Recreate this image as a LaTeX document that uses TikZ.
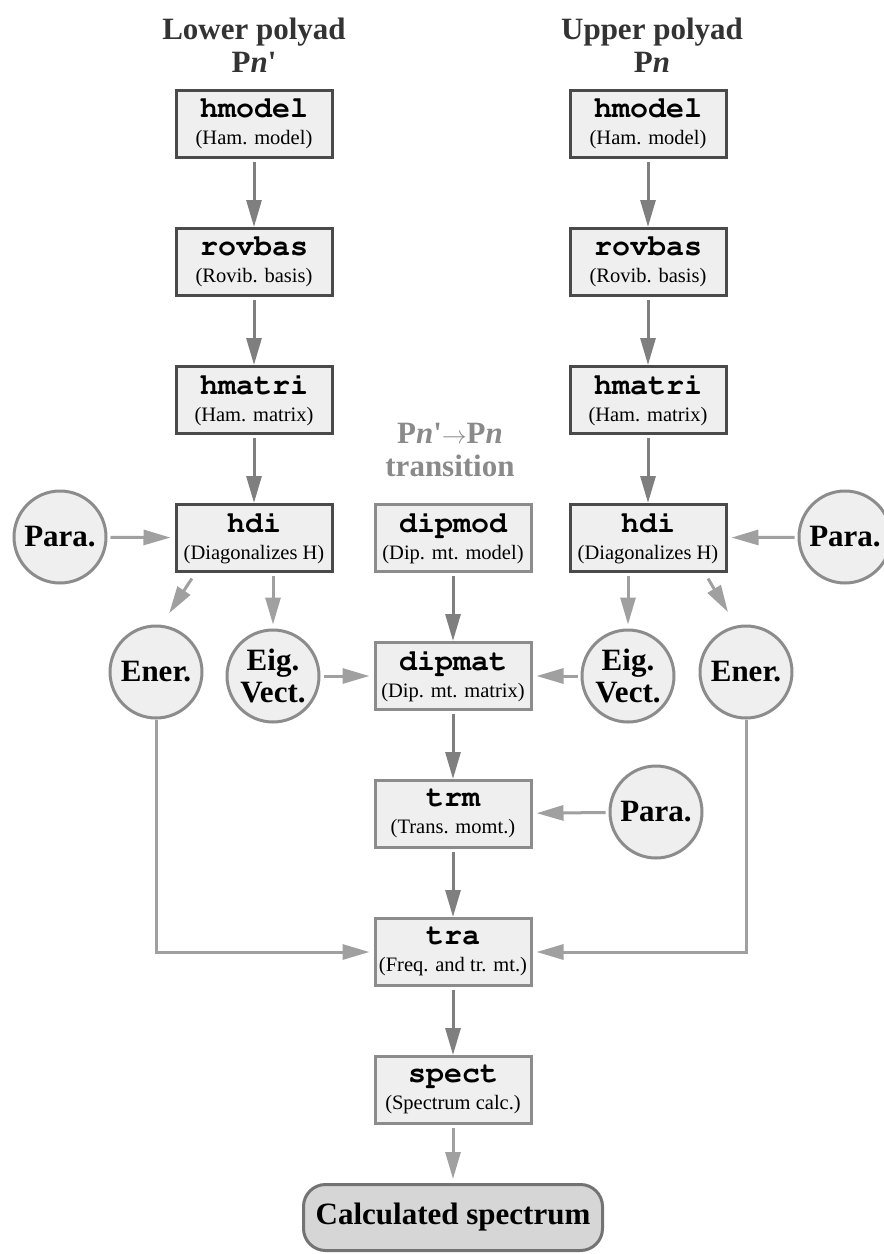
\documentclass[tikz,border=0pt]{standalone}
\usepackage[T1]{fontenc}
\usepackage{fontspec}
\setmainfont{Liberation Serif}
\setmonofont{Liberation Mono}
\usetikzlibrary{arrows.meta,positioning}

\definecolor{boxfill}{HTML}{EFEFEF}
\definecolor{darkline}{HTML}{4A4A4A}
\definecolor{midline}{HTML}{8C8C8C}
\definecolor{arrdark}{HTML}{7F7F7F}
\definecolor{arrlight}{HTML}{A0A0A0}
\definecolor{headgray}{HTML}{8A8A8A}
\definecolor{resfill}{HTML}{D6D6D6}

\newcommand{\prg}[1]{{\fontencoding{T1}\fontfamily{pcr}\fontseries{b}\fontsize{30}{30}\selectfont #1}}

\begin{document}
\begin{tikzpicture}[
    x=1pt, y=-1pt,
    node distance=68pt,
    progbox/.style={rectangle, draw=darkline, line width=3pt, fill=boxfill, minimum width=156pt, minimum height=67pt, align=center, inner sep=2pt, font=\fontsize{20.5}{27}\selectfont},
    tprogbox/.style={progbox, draw=midline},
    databox/.style={circle, draw=midline, line width=3pt, fill=boxfill, minimum size=92pt, inner sep=0pt, align=center, font=\fontsize{31}{32}\selectfont\bfseries},
    resbox/.style={rectangle, rounded corners=22pt, draw=black!55, line width=3pt, fill=resfill, minimum width=299pt, minimum height=66pt, font=\fontsize{31}{32}\selectfont\bfseries},
    headtxt/.style={align=center, text=black!80, font=\fontsize{31}{33}\selectfont\bfseries},
    arr/.style={draw=arrdark, line width=3pt, -{Triangle[length=27pt,width=15pt]}, shorten <=3pt},
    arrl/.style={arr, draw=arrlight, shorten >=4pt}
  ]
  \useasboundingbox (0,0) rectangle (884,1254);

  % lower polyad
  \node[headtxt] (lowT) at (254,45) {Lower polyad\\P\textit{n}\textquotesingle};
  \node[progbox] (hmodelL) at (254,124) {\prg{hmodel}\\(Ham. model)};
  \node[progbox, below=of hmodelL] (rovbasL) {\prg{rovbas}\\(Rovib. basis)};
  \node[progbox, below=of rovbasL] (hmatriL) {\prg{hmatri}\\(Ham. matrix)};
  \node[progbox, below=of hmatriL] (hdiL) {\prg{hdi}\\(Diagonalizes H)};
  \node[databox] (paraL) at (60,537) {Para.};
  \node[databox] (enerL) at (156,672) {Ener.};
  \node[databox] (eigL) at (273,676) {Eig.\\Vect.};

  % upper polyad
  \node[headtxt] (upT) at (652,45) {Upper polyad\\P\textit{n}};
  \node[progbox] (hmodelR) at (648,124) {\prg{hmodel}\\(Ham. model)};
  \node[progbox, below=of hmodelR] (rovbasR) {\prg{rovbas}\\(Rovib. basis)};
  \node[progbox, below=of rovbasR] (hmatriR) {\prg{hmatri}\\(Ham. matrix)};
  \node[progbox, below=of hmatriR] (hdiR) {\prg{hdi}\\(Diagonalizes H)};
  \node[databox] (paraR) at (845,537) {Para.};
  \node[databox] (eigR) at (628,676) {Eig.\\Vect.};
  \node[databox] (enerR) at (746,672) {Ener.};

  % transition
  \node[headtxt, text=headgray] (trT) at (450,450) {P\textit{n}\textquotesingle$\rightarrow$P\textit{n}\\transition};
  \node[tprogbox] (dipmod) at (453,538) {\prg{dipmod}\\(Dip. mt. model)};
  \node[tprogbox, below=of dipmod] (dipmat) {\prg{dipmat}\\(Dip. mt. matrix)};
  \node[tprogbox, below=of dipmat] (trm) {\prg{trm}\\(Trans. momt.)};
  \node[tprogbox, below=of trm] (tra) {\prg{tra}\\(Freq. and tr. mt.)};
  \node[tprogbox, below=of tra] (spect) {\prg{spect}\\(Spectrum calc.)};
  \node[resbox, below=58pt of spect] (calc) {Calculated spectrum};
  \node[databox] (paraT) at (656,812) {Para.};

  \draw[arr] (hmodelL) -- (rovbasL);
  \draw[arr] (rovbasL) -- (hmatriL);
  \draw[arr] (hmatriL) -- (hdiL);
  \draw[arrl] (paraL) -- (hdiL);
  \draw[arrl] ([xshift=19pt,yshift=-3pt]hdiL.south west) -- ([xshift=11pt,yshift=8pt]enerL.north);
  \draw[arrl] (hdiL.south -| eigL.north) -- (eigL.north);

  \draw[arr] (hmodelR) -- (rovbasR);
  \draw[arr] (rovbasR) -- (hmatriR);
  \draw[arr] (hmatriR) -- (hdiR);
  \draw[arrl] (paraR) -- (hdiR);
  \draw[arrl] ([xshift=-21pt,yshift=-3pt]hdiR.south east) -- ([xshift=-16pt,yshift=9pt]enerR.north);
  \draw[arrl] (hdiR.south -| eigR.north) -- (eigR.north);

  \draw[arrl] (eigL) -- (dipmat);
  \draw[arrl] (eigR) -- (dipmat);
  \draw[arr] (dipmod) -- (dipmat);
  \draw[arr] (dipmat) -- (trm);
  \draw[arrl] (paraT) -- (trm);
  \draw[arr] (trm) -- (tra);
  \draw[arrl, shorten <=0pt] (enerL) |- (tra);
  \draw[arrl, shorten <=0pt] (enerR) |- (tra);
  \draw[arr] (tra) -- (spect);
  \draw[arrl] (spect) -- (calc);
\end{tikzpicture}
\end{document}
